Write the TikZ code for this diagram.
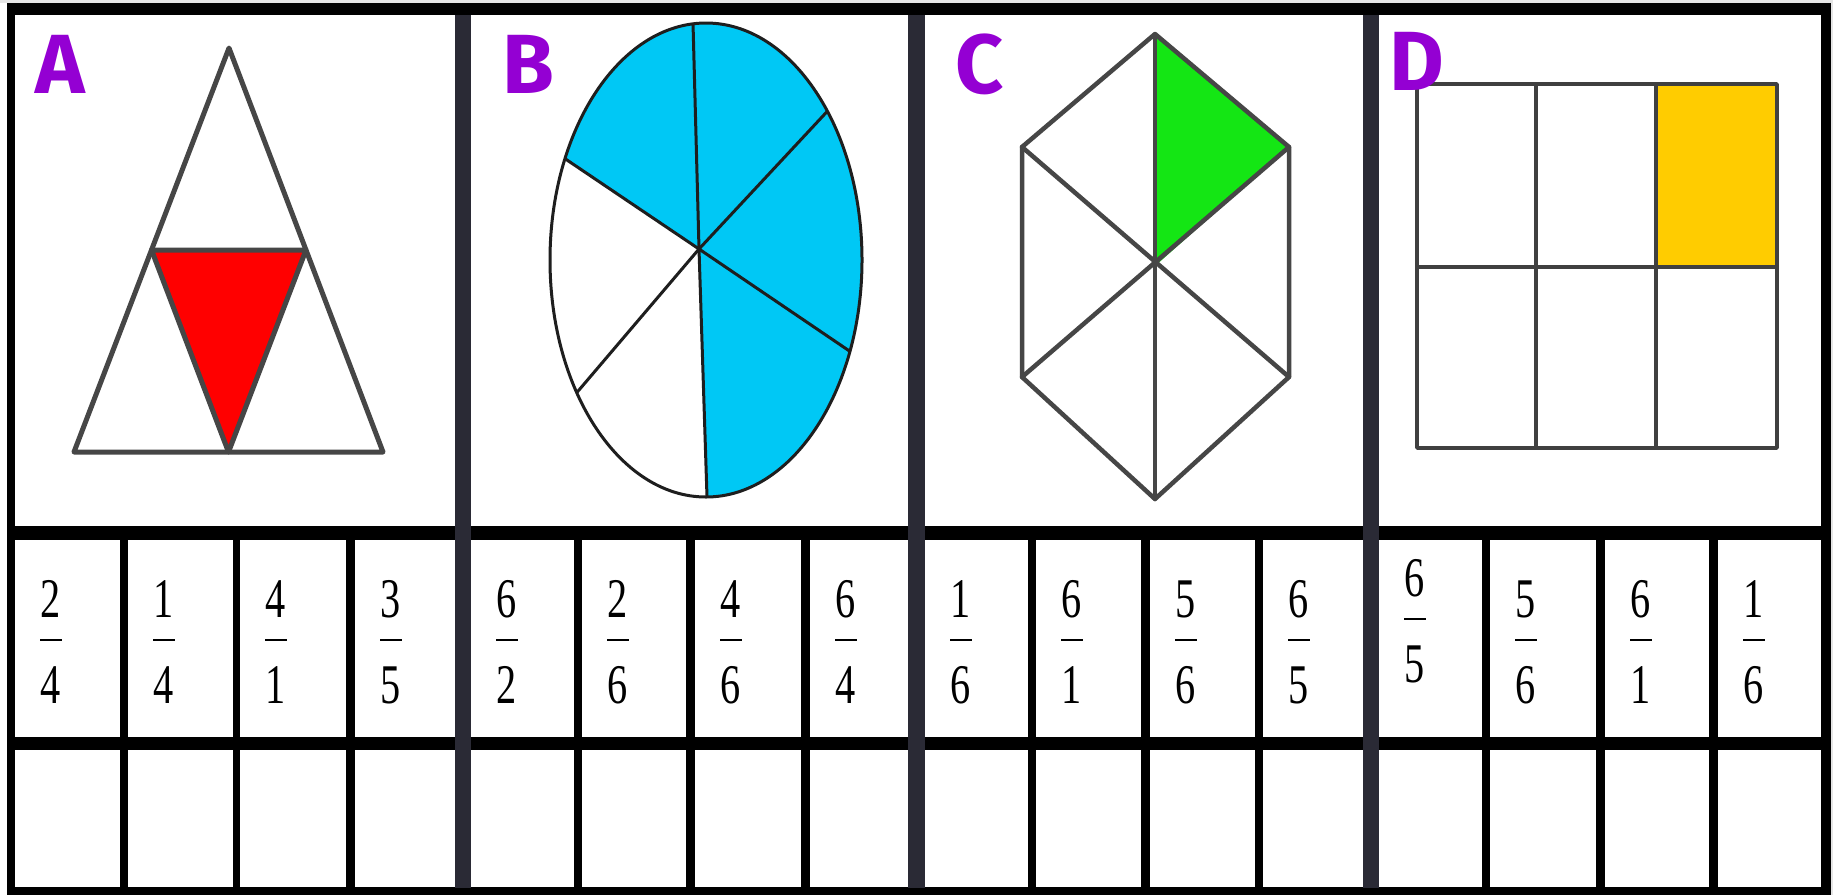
\documentclass[tikz,border=0pt]{standalone}
\usepackage{fontspec}
\usepackage{graphicx}
\usetikzlibrary{calc}
\newfontfamily\letterfont{Fira Sans}
\newfontfamily\digitfont{Liberation Serif}
\definecolor{sepcol}{RGB}{42,42,53}
\definecolor{lettercol}{RGB}{148,0,211}
\definecolor{bluefill}{RGB}{0,200,245}
\definecolor{greenfill}{RGB}{20,230,20}
\definecolor{goldfill}{RGB}{255,204,0}
\definecolor{redfill}{RGB}{255,0,0}
\definecolor{shapeline}{RGB}{70,70,70}
\definecolor{darkline}{RGB}{30,30,30}
\begin{document}
\begin{tikzpicture}[x=1pt,y=-1pt,
  letterlbl/.style={anchor=base west, inner sep=0pt, outer sep=0pt, text=lettercol,
    font=\letterfont\bfseries\fontsize{84}{84}\selectfont},
  digit/.style={anchor=base, inner sep=0pt, outer sep=0pt,
    font=\digitfont\fontsize{56}{56}\selectfont},
  fracbar/.style={line width=2.6pt, draw=black},
  outline/.style={draw=shapeline, line width=5pt, line join=round, line cap=round},
  thinline/.style={draw=darkline, line width=3pt, line cap=round},
  hexline/.style={draw=shapeline, line width=4.5pt, line join=round, line cap=round},
  gridline/.style={draw=darkline!85, line width=3.5pt, line join=round}]
\useasboundingbox (0,0) rectangle (1833,895);
\fill[white] (0,0) rectangle (1833,895);
\fill[black!10] (0,0) rectangle (1833,3);
\fill[black!10] (1831,0) rectangle (1833,895);

% ---------- Panel A: triangle ----------
\coordinate (tApex) at (229,48);
\coordinate (tL) at (74,452);
\coordinate (tR) at (383,452);
\coordinate (mL) at ($(tApex)!0.5!(tL)$);
\coordinate (mR) at ($(tApex)!0.5!(tR)$);
\coordinate (mB) at ($(tL)!0.5!(tR)$);
\fill[redfill] (mL) -- (mR) -- (mB) -- cycle;
\draw[outline] (tApex) -- (tL) -- (tR) -- cycle;
\draw[outline] (mL) -- (mR) -- (mB) -- cycle;

% ---------- Panel B: ellipse ----------
\coordinate (eC) at (706,260);
\coordinate (hub) at (699,249);
\coordinate (sTop) at (693,23);
\coordinate (sUR) at (822,117);
\coordinate (sLR) at (845,348);
\coordinate (sBot) at (707,497);
\coordinate (sLL) at (579,390);
\coordinate (sUL) at (564,158);
\begin{scope}
  \clip (eC) ellipse [x radius=156pt, y radius=237pt];
  \fill[bluefill] (eC) ellipse [x radius=156pt, y radius=237pt];
  \fill[white] (hub) -- ($(hub)!1.3!(sBot)$) -- (500,571) -- (500,131) -- ($(hub)!1.3!(sUL)$) -- cycle;
  \foreach \p in {sTop,sUR,sLR,sBot,sLL,sUL}
    \draw[thinline] (hub) -- ($(hub)!1.3!(\p)$);
\end{scope}
\draw[thinline] (eC) ellipse [x radius=156pt, y radius=237pt];

% ---------- Panel C: hexagon ----------
\coordinate (hT) at (1155,34);
\coordinate (hUR) at (1289,147);
\coordinate (hLR) at (1289,377);
\coordinate (hB) at (1155,499);
\coordinate (hLL) at (1022,377);
\coordinate (hUL) at (1022,147);
\coordinate (hC) at (1155,266);
\fill[greenfill] (hT) -- (hUR) -- (hC) -- cycle;
\draw[hexline] (hT) -- (hUR) -- (hLR) -- (hB) -- (hLL) -- (hUL) -- cycle;
\draw[hexline] (hT) -- (hB);
\draw[hexline] (hUL) -- (hLR);
\draw[hexline] (hUR) -- (hLL);

% ---------- Panel D: grid ----------
\fill[goldfill] (1656,84) rectangle (1777,267);
\draw[gridline] (1417,84) rectangle (1777,448);
\draw[gridline] (1417,267) -- (1777,267);
\draw[gridline] (1536,84) -- (1536,448);
\draw[gridline] (1656,84) -- (1656,448);

% ---------- Letters ----------
\node[letterlbl] (labA) at (35,93) {A};
\node[letterlbl] (labB) at (502,93) {B};
\node[letterlbl] (labC) at (955,93) {C};
\node[letterlbl] (labD) at (1389,90) {D};

% ---------- Frame ----------
\fill[black] (7,3) rectangle (1831,15);
\fill[black] (7,3) rectangle (15,895);
\fill[black] (1821,3) rectangle (1831,895);
\fill[black] (7,526) rectangle (1831,540);
\fill[black] (7,737) rectangle (1831,750);
\fill[black] (7,887) rectangle (1831,895);
\foreach \a/\b in {120/128,233/240,346/355,574/582,686/695,801/810,1028/1036,1141/1150,1255/1263,1482/1490,1596/1605,1709/1718}
  \fill[black] (\a,540) rectangle (\b,887);
\foreach \a/\b in {455/471,908/925,1363/1379}
  \fill[sepcol] (\a,15) rectangle (\b,888);

% ---------- Fractions ----------
\foreach \cl/\n/\d/\s [count=\i] in {15/2/4/0,128/1/4/0,240/4/1/0,355/3/5/0,
    471/6/2/0,582/2/6/0,695/4/6/0,810/6/4/0,
    925/1/6/0,1036/6/1/0,1150/5/6/0,1263/6/5/0,
    1379/6/5/21,1490/5/6/0,1605/6/1/0,1718/1/6/0} {
  \node[digit] (num\i) at (\cl+36,617-\s) {\scalebox{0.72}[1]{\n}};
  \draw[fracbar] (\cl+25,640-\s) -- (\cl+47,640-\s);
  \node[digit] (den\i) at (\cl+36,703-\s) {\scalebox{0.72}[1]{\d}};
}
\end{tikzpicture}
\end{document}
